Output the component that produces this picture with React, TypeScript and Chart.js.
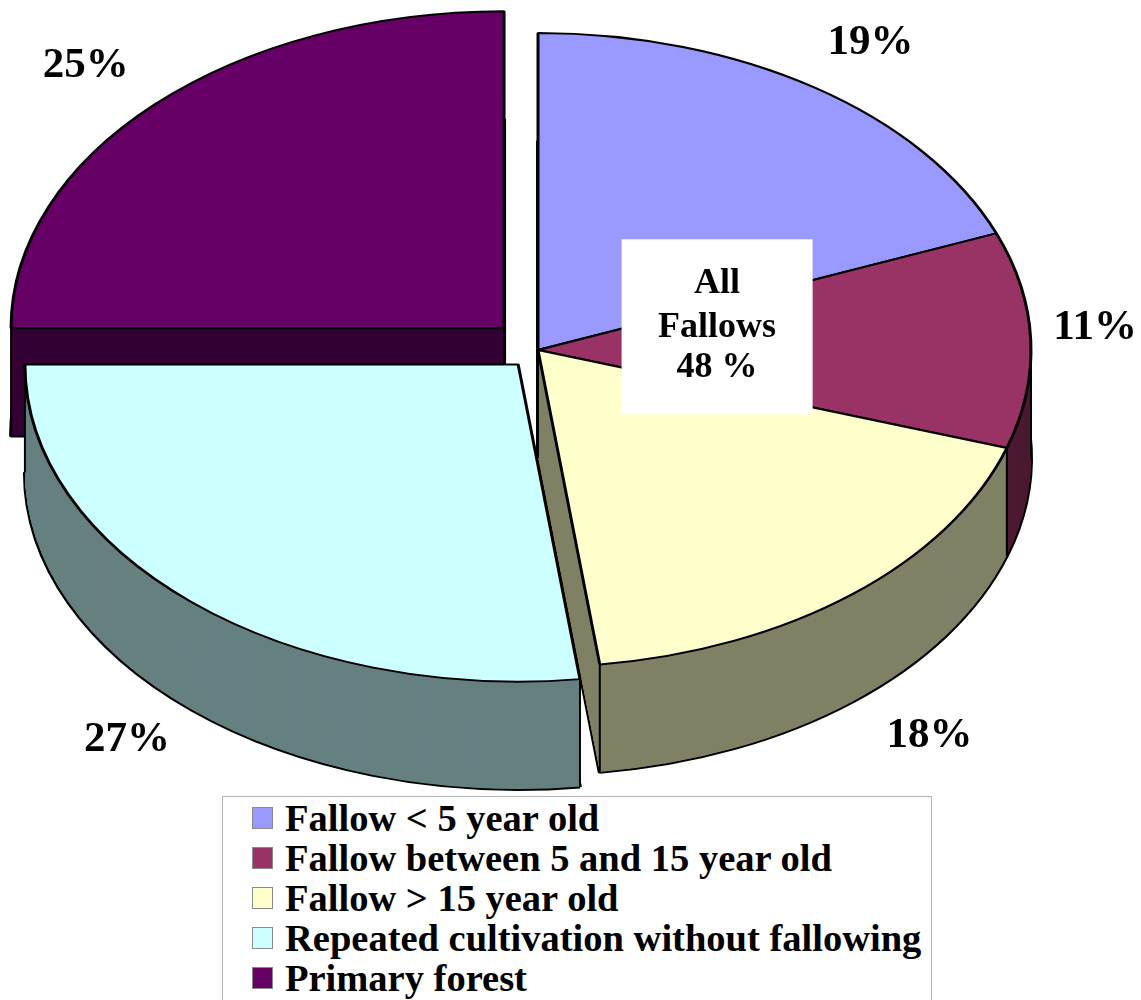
import React, { useEffect, useRef } from 'react';
import { Chart, registerables } from 'chart.js';

Chart.register(...registerables);

// ---------- data ----------
const categories = [
  'Fallow < 5 year old',
  'Fallow between 5 and 15 year old',
  'Fallow > 15 year old',
  'Repeated cultivation without fallowing',
  'Primary forest',
];
const shares = [19, 11, 18, 27, 25];
const percentLabels = ['19%', '11%', '18%', '27%', '25%'];
const fallowGroup = [0, 1, 2];
const groupTitle = ['All', 'Fallows'];

// ---------- styles ----------
const topColors = ['#9999FF', '#993366', '#FFFFCC', '#CCFFFF', '#660066'];
const sideColors = ['#4D4D80', '#4D1A33', '#808066', '#668080', '#330033'];
const explodePx = [0, 0, 0, 30, 48];

const W = 1141;
const H = 1000;
const CX = 538;
const CY = 350;
const RX = 493;
const RY = 317;
const DEPTH = 108;
const K = RY / RX;
const DEPTH_U = DEPTH / K;
const SERIF = '"Liberation Serif", "Times New Roman", serif';

function geom(el: any) {
  const off = (el.options.offset || 0) / 4;
  const mid = (el.startAngle + el.endAngle) / 2;
  const fix = 1 - Math.sin(Math.min(Math.PI, el.circumference || 0));
  return {
    x: el.x + Math.cos(mid) * off,
    y: el.y + Math.sin(mid) * off,
    r: el.outerRadius + off * fix,
    mid,
  };
}

const pie3d = {
  id: 'pie3d',
  beforeDatasetsDraw(chart: any) {
    const ctx: CanvasRenderingContext2D = chart.ctx;
    const arcs: any[] = chart.getDatasetMeta(0).data;
    const cx = arcs[0].x;
    const cy = arcs[0].y;
    ctx.save();
    ctx.translate(cx, cy);
    ctx.scale(1, K);
    ctx.translate(-cx, -cy);

    const order = arcs
      .map((el, i) => {
        const g = geom(el);
        const off = (el.options.offset || 0) / 4;
        return { i, z: Math.sin(g.mid) * (el.outerRadius * 0.6 + off) };
      })
      .sort((a, b) => a.z - b.z);

    for (const { i } of order) {
      const el = arcs[i];
      const o = el.options;
      const strokeProxy = Object.create(el);
      strokeProxy.options = { ...o, backgroundColor: sideColors[i], borderColor: '#000', borderWidth: 4 };
      const fillProxy = Object.create(el);
      fillProxy.options = { ...o, backgroundColor: sideColors[i], borderWidth: 0 };

      ctx.save();
      ctx.translate(0, DEPTH_U);
      strokeProxy.draw(ctx);
      ctx.restore();
      for (let d = Math.floor(DEPTH_U); d >= 1; d -= 1) {
        ctx.save();
        ctx.translate(0, d);
        fillProxy.draw(ctx);
        ctx.restore();
      }

      // vertical edges of the side walls
      const g = geom(el);
      const pts: number[][] = [[g.x, g.y]];
      const angs = [el.startAngle, el.endAngle];
      for (const a of [0, Math.PI, 2 * Math.PI]) {
        if (a > el.startAngle + 1e-6 && a < el.endAngle - 1e-6) angs.push(a);
      }
      for (const a of angs) {
        if (Math.sin(a) > -0.02) pts.push([g.x + g.r * Math.cos(a), g.y + g.r * Math.sin(a)]);
      }
      ctx.save();
      ctx.strokeStyle = '#000';
      ctx.lineWidth = 2;
      ctx.beginPath();
      for (const [px, py] of pts) {
        ctx.moveTo(px, py);
        ctx.lineTo(px, py + DEPTH_U);
      }
      ctx.stroke();
      ctx.restore();
    }
  },
  afterDatasetsDraw(chart: any) {
    const ctx: CanvasRenderingContext2D = chart.ctx;
    ctx.restore();
    const arcs: any[] = chart.getDatasetMeta(0).data;
    const cx = arcs[0].x;
    const cy = arcs[0].y;

    // percentage labels
    ctx.save();
    ctx.fillStyle = '#000';
    ctx.font = `bold 43px ${SERIF}`;
    ctx.textAlign = 'center';
    ctx.textBaseline = 'middle';
    arcs.forEach((el, i) => {
      const g = geom(el);
      const sx = g.x;
      const sy = cy + (g.y - cy) * K;
      const s = Math.sin(g.mid);
      const c = Math.cos(g.mid);
      const fx = 1.2 + 0.094 * Math.max(0, c) * Math.max(0, s);
      let x = sx + RX * fx * c;
      let y = sy + RY * 1.17 * s + (s > 0 ? DEPTH * 1.2 * s : 0);
      const w = ctx.measureText(percentLabels[i]).width;
      const maxX = chart.width - w / 2 - 4;
      if (x > maxX) {
        x = maxX;
        y -= 10;
      }
      x = Math.max(w / 2 + 4, x);
      ctx.fillText(percentLabels[i], x, y);
    });
    ctx.restore();

    // "All Fallows" box
    const first = arcs[fallowGroup[0]];
    const last = arcs[fallowGroup[fallowGroup.length - 1]];
    const gm = (first.startAngle + last.endAngle) / 2;
    const total = fallowGroup.reduce((acc, j) => acc + shares[j], 0);
    const bx = cx + RX * 0.364 * Math.cos(gm);
    const by = cy + RY * (0.37 * Math.sin(gm) - 0.05);
    const bw = 191;
    const bh = 175;
    ctx.save();
    ctx.fillStyle = '#fff';
    ctx.fillRect(bx - bw / 2, by - bh / 2, bw, bh);
    ctx.fillStyle = '#000';
    ctx.font = `bold 36px ${SERIF}`;
    ctx.textAlign = 'center';
    ctx.textBaseline = 'middle';
    const lines = [...groupTitle, `${total} %`];
    const offs = [-43, 1, 41];
    lines.forEach((t, j) => ctx.fillText(t, bx, by + offs[j]));
    ctx.restore();
  },
};

export default function App() {
  const ref = useRef<HTMLCanvasElement>(null);
  useEffect(() => {
    const chart = new Chart(ref.current as HTMLCanvasElement, {
      type: 'pie',
      data: {
        labels: categories,
        datasets: [
          {
            data: shares,
            backgroundColor: topColors,
            borderColor: '#000',
            borderWidth: 3,
            offset: explodePx.map((v) => v * 4),
            clip: false,
          } as any,
        ],
      },
      options: {
        responsive: false,
        animation: false,
        events: [],
        radius: RX,
        layout: { padding: { left: 0, top: 0, right: W - 2 * CX, bottom: H - 2 * CY } },
        plugins: { legend: { display: false }, tooltip: { enabled: false } },
      } as any,
      plugins: [pie3d as any],
    });
    return () => chart.destroy();
  }, []);

  return (
    <div style={{ position: 'absolute', left: 0, top: 0, width: W, height: H, background: '#fff', overflow: 'hidden' }}>
      <canvas ref={ref} width={W} height={H} style={{ position: 'absolute', left: 0, top: 0 }} />
      <div
        style={{
          position: 'absolute',
          left: 222,
          top: 796,
          width: 710,
          height: 220,
          border: '1px solid #b4b4b4',
          boxSizing: 'border-box',
          background: '#fff',
          fontFamily: SERIF,
          fontWeight: 'bold',
          fontSize: 38.5,
          paddingTop: 1,
          paddingLeft: 29,
          color: '#000',
        }}
      >
        {categories.map((c, i) => (
          <div key={c} style={{ display: 'flex', alignItems: 'center', height: 40, whiteSpace: 'nowrap' }}>
            <span
              style={{
                display: 'inline-block',
                width: 21,
                height: 22,
                background: topColors[i],
                border: '1px solid #8a8a8a',
                boxSizing: 'border-box',
                marginRight: 12,
                flex: 'none',
              }}
            />
            <span style={{ lineHeight: '40px' }}>{c}</span>
          </div>
        ))}
      </div>
    </div>
  );
}
